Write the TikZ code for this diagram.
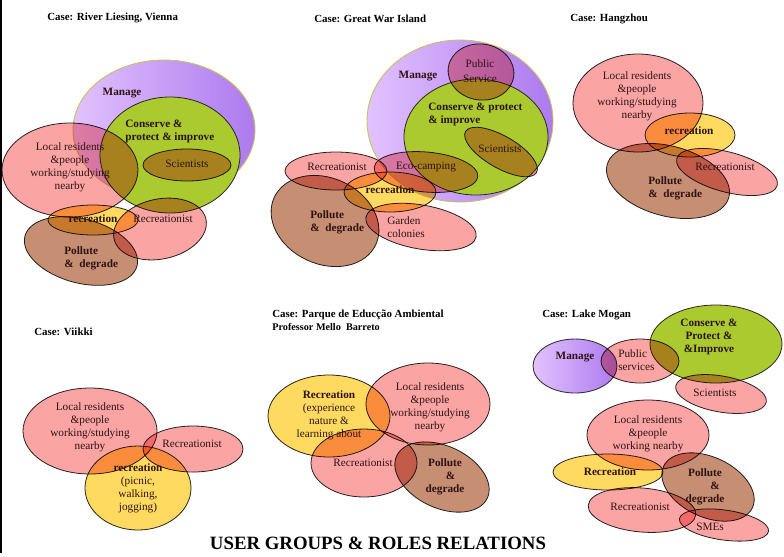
\documentclass[tikz,border=0pt]{standalone}
\usepackage{fontspec}
\setmainfont{Liberation Serif}
\usepackage{tikz}

\definecolor{rosa}{RGB}{250,164,164}
\definecolor{sun}{RGB}{255,218,96}
\definecolor{clay}{RGB}{198,142,114}
\definecolor{leaf}{RGB}{170,202,48}
\definecolor{lilacL}{RGB}{226,194,255}
\definecolor{lilacD}{RGB}{172,122,238}
\definecolor{rimY}{RGB}{200,192,96}
\definecolor{ink}{RGB}{45,18,18}

\begin{document}
\begin{tikzpicture}[x=0.02cm, y=-0.02cm,
  set/.style={draw=black!85, line width=0.45pt},
  pinkset/.style={set, fill=rosa},
  sunset/.style={set, fill=sun},
  clayset/.style={set, fill=clay},
  leafset/.style={set, fill=leaf},
  manageset/.style={draw=rimY, line width=0.5pt, left color=lilacL, right color=lilacD},
  lbl/.style={inner sep=0pt, align=center, text=ink, font=\fontsize{6.4}{7.4}\selectfont},
  blbl/.style={lbl, font=\bfseries\fontsize{6.4}{7.4}\selectfont},
  case/.style={anchor=west, inner sep=0pt, font=\bfseries\fontsize{6.2}{7}\selectfont}
]
  \useasboundingbox (0,0) rectangle (784,556);
  \fill[white] (0,0) rectangle (784,556);
  \draw[line width=1pt] (1,0) -- (1,553);

  % bottom layer: manage and conserve sets
  \draw[manageset] (164,130) ellipse [x radius=91, y radius=70];
  \draw[leafset] (170,155) ellipse [x radius=70, y radius=58];
  \draw[manageset] (460,121) ellipse [x radius=93, y radius=81];
  \draw[leafset] (476,137) ellipse [x radius=72, y radius=58];
  \draw[manageset, draw=black!80] (575,366) ellipse [x radius=42, y radius=27];
  \draw[leafset] (716,344) ellipse [x radius=66, y radius=39];

  \begin{scope}[blend mode=multiply]
    % River Liesing
    \draw[pinkset] (70,170) ellipse [x radius=68, y radius=47];
    \draw[pinkset] (187,165) ellipse [x radius=44, y radius=16];
    \draw[sunset] (93,220) ellipse [x radius=45, y radius=15];
    \draw[pinkset, rotate around={12:(160,229)}] (160,229) ellipse [x radius=47, y radius=30];
    \draw[clayset, rotate around={-15:(81,251)}] (81,251) ellipse [x radius=58, y radius=32];
    % Great War Island
    \draw[pinkset, rotate around={-8:(481,72)}] (481,72) ellipse [x radius=33, y radius=28];
    \draw[pinkset, rotate around={-30:(501,152)}] (501,152) ellipse [x radius=41, y radius=16];
    \draw[pinkset, rotate around={-5:(426,172)}] (426,172) ellipse [x radius=52, y radius=20];
    \draw[pinkset] (336,171) ellipse [x radius=51, y radius=19];
    \draw[sunset] (390,192) ellipse [x radius=46, y radius=20];
    \draw[clayset, rotate around={-25:(325,221)}] (325,221) ellipse [x radius=56, y radius=43];
    \draw[pinkset, rotate around={-10:(421,227)}] (421,227) ellipse [x radius=56, y radius=22];
    % Hangzhou
    \draw[pinkset] (638,103) ellipse [x radius=65, y radius=49];
    \draw[sunset] (690,135) ellipse [x radius=45, y radius=22];
    \draw[clayset, rotate around={-15:(668,181)}] (668,181) ellipse [x radius=63, y radius=35];
    \draw[pinkset, rotate around={-15:(727,172)}] (727,172) ellipse [x radius=52, y radius=20];
    % Viikki
    \draw[pinkset] (90,431) ellipse [x radius=67, y radius=43];
    \draw[pinkset] (193,449) ellipse [x radius=50, y radius=23];
    \draw[sunset] (138,488) ellipse [x radius=53, y radius=42];
    % Parque
    \draw[sunset] (329,416) ellipse [x radius=61, y radius=41];
    \draw[pinkset] (428,404) ellipse [x radius=62, y radius=41];
    \draw[pinkset] (364,463) ellipse [x radius=53, y radius=34];
    \draw[clayset, rotate around={-25:(442,477)}] (442,477) ellipse [x radius=50, y radius=31];
    % Lake Mogan
    \draw[pinkset] (640,361) ellipse [x radius=39, y radius=22];
    \draw[pinkset, rotate around={-10:(721,394)}] (721,394) ellipse [x radius=46, y radius=18];
    \draw[pinkset] (648,435) ellipse [x radius=61, y radius=35];
    \draw[sunset] (608,472) ellipse [x radius=55, y radius=18];
    \draw[clayset, rotate around={-25:(708,487)}] (708,487) ellipse [x radius=49, y radius=30];
    \draw[pinkset, rotate around={-5:(642,510)}] (642,510) ellipse [x radius=54, y radius=22];
    \draw[pinkset, rotate around={-8:(724,525)}] (724,525) ellipse [x radius=45, y radius=15];
  \end{scope}

  \node[case] (liesingcase) at (47,18) {Case: River Liesing, Vienna};
  \node[blbl] (liesingmanage) at (122,93) {Manage};
  \node[blbl, anchor=west, align=left] (liesingconserve) at (125,131.5) {Conserve \&\\protect \& improve};
  \node[lbl] (liesingsci) at (187,164) {Scientists};
  \node[lbl] (liesinglocal) at (70,167) {Local residents\\\&people\\working/studying\\nearby};
  \node[blbl] (liesingrec) at (93,219) {recreation};
  \node[lbl] (liesingrecist) at (163,219) {Recreationist};
  \node[blbl, anchor=west, align=left] (liesingpollute) at (64,258.5) {Pollute\\\&~~degrade};

  \node[case] (islandcase) at (314,19) {Case: Great War Island};
  \node[blbl] (islandmanage) at (418,76) {Manage};
  \node[lbl] (islandpublic) at (480,71) {Public\\[1.2pt]Service};
  \node[blbl, anchor=west, align=left] (islandconserve) at (428,114) {Conserve \& protect\\\& improve};
  \node[lbl] (islandsci) at (500,149) {Scientists};
  \node[lbl] (islandeco) at (426,167) {Eco-camping};
  \node[lbl] (islandrecist) at (337,167) {Recreationist};
  \node[blbl] (islandrec) at (390,190) {recreation};
  \node[blbl, anchor=west, align=left] (islandpollute) at (310,222) {Pollute\\\&~~degrade};
  \node[lbl, anchor=west, align=left] (islandgarden) at (387,227) {Garden\\colonies};

  \node[case] (hangzhoucase) at (570,19) {Case: Hangzhou};
  \node[lbl] (hangzhoulocal) at (637,96.5) {Local residents\\\&people\\working/studying\\nearby};
  \node[blbl] (hangzhourec) at (689,131) {recreation};
  \node[lbl] (hangzhourecist) at (725,167) {Recreationist};
  \node[blbl, anchor=west, align=left] (hangzhoupollute) at (648,188) {Pollute\\\&~~degrade};

  \node[case] (viikkicase) at (34,332) {Case: Viikki};
  \node[lbl] (viikkilocal) at (90,427) {Local residents\\\&people\\working/studying\\nearby};
  \node[lbl] (viikkirecist) at (192,444) {Recreationist};
  \node[lbl] (viikkirec) at (138,488) {\textbf{recreation}\\(picnic,\\walking,\\jogging)};

  \node[case] (parquecase) at (272,315) {Case: Parque de Educção Ambiental};
  \node[case, font=\bfseries\fontsize{5.8}{6.6}\selectfont] (parquesub) at (272,327) {Professor Mello~~Barreto};
  \node[lbl] (parquerec) at (329,415.5) {\textbf{Recreation}\\(experience\\nature \&\\learning about};
  \node[lbl] (parquelocal) at (430,407) {Local residents\\\&people\\working/studying\\nearby};
  \node[lbl] (parquerecist) at (363,463) {Recreationist};
  \node[blbl] (parquepollute) at (445,477) {Pollute\\\hspace*{1em}\&\\degrade};

  \node[case] (mogancase) at (542,315) {Case: Lake Mogan};
  \node[blbl] (moganmanage) at (575,357) {Manage};
  \node[lbl, anchor=west, align=left] (moganpublic) at (618,360.5) {Public\\services};
  \node[blbl] (moganconserve) at (709,336.5) {Conserve \&\\Protect \&\\\&Improve};
  \node[lbl] (mogansci) at (715,393) {Scientists};
  \node[lbl] (moganlocal) at (648,434) {Local residents\\\&people\\working nearby};
  \node[blbl] (moganrec) at (610,472) {Recreation};
  \node[blbl] (moganpollute) at (705,487) {Pollute\\\hspace*{1.8em}\&\\degrade};
  \node[lbl] (moganrecist) at (640,507) {Recreationist};
  \node[lbl] (mogansme) at (710,527) {SMEs};

  \node[inner sep=0pt, font=\bfseries\fontsize{10.7}{12}\selectfont] (caption) at (378,543) {USER GROUPS \& ROLES RELATIONS};
\end{tikzpicture}
\end{document}
